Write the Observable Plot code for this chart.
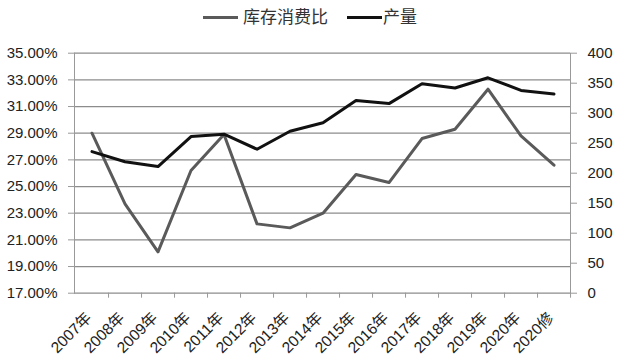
<!DOCTYPE html>
<html><head><meta charset="utf-8">
<script src="https://cdn.jsdelivr.net/npm/d3@7"></script>
<script src="https://cdn.jsdelivr.net/npm/@observablehq/plot@0.6"></script>
<style>
body{margin:0;background:#fff;}
#legend{position:relative;height:30px;width:620px;font-family:"Noto Sans CJK SC",sans-serif;font-size:17px;color:#333;}
#legend .sw{position:absolute;height:3px;top:16px;width:35px;}
#legend .tx{position:absolute;top:4px;line-height:24px;}
</style></head><body>
<div id="legend"></div>
<div id="chart"></div>
<script>
const years = ["2007年","2008年","2009年","2010年","2011年","2012年","2013年","2014年","2015年","2016年","2017年","2018年","2019年","2020年","2020修"];
const ratio = [29.0, 23.7, 20.1, 26.2, 28.9, 22.2, 21.9, 23.0, 25.9, 25.3, 28.6, 29.3, 32.3, 28.8, 26.6];
const output = [236, 219, 211, 261, 265, 240, 270, 284, 321, 316, 349, 342, 359, 338, 332];
const leftTicks = [17, 19, 21, 23, 25, 27, 29, 31, 33, 35];
const rightTicks = [0, 50, 100, 150, 200, 250, 300, 350, 400];
const seriesNames = ["库存消费比", "产量"];
const seriesColors = ["#5a5a5a", "#111111"];

// legend
const lg = document.getElementById("legend");
const swX = [203, 347], txX = [243, 383];
seriesNames.forEach((n, i) => {
  const s = document.createElement("div"); s.className = "sw";
  s.style.left = swX[i] + "px"; s.style.background = seriesColors[i];
  lg.appendChild(s);
  const t = document.createElement("div"); t.className = "tx";
  t.style.left = txX[i] + "px"; t.textContent = n;
  lg.appendChild(t);
});

// secondary axis mapping: 0..400 -> 17..35
const toLeft = v => 17 + v * 18 / 400;
const data = years.map((y, i) => ({year: y, ratio: ratio[i], output: output[i]}));

const W = 620, H = 334, ml = 74, mr = 50, mt = 22.7, mb = 71.3;
const bw = (W - ml - mr) / years.length;

const chart = Plot.plot({
  width: W, height: H,
  marginLeft: ml, marginRight: mr, marginTop: mt, marginBottom: mb,
  style: {fontFamily: "'Liberation Sans', sans-serif", fontSize: "15px", color: "#222", background: "#fff", overflow: "visible"},
  x: {type: "band", domain: years, padding: 0, label: null},
  y: {domain: [17, 35], label: null},
  marks: [
    Plot.ruleY(leftTicks, {stroke: "#8c8c8c", strokeWidth: 1.3}),
    Plot.frame({anchor: "left", stroke: "#999"}),
    Plot.frame({anchor: "right", stroke: "#999"}),
    Plot.axisY(leftTicks, {anchor: "left", tickSize: 6, tickPadding: 11, stroke: "#999", tickFormat: d => d.toFixed(2) + "%", label: null}),
    Plot.axisY(rightTicks.map(toLeft), {anchor: "right", tickSize: 6, tickPadding: 11, stroke: "#999", tickFormat: d => String(Math.round((d - 17) * 400 / 18)), label: null}),
    Plot.axisX({tickSize: 5, stroke: "#999", tickFormat: () => "", dx: bw / 2, label: null}),
    Plot.axisX({tickSize: 0, tickRotate: -45, tickPadding: 22, dx: -3, fontSize: 15.5, fontFamily: "'Liberation Sans','Noto Sans CJK SC',sans-serif", label: null}),
    Plot.line(data, {x: "year", y: "ratio", stroke: seriesColors[0], strokeWidth: 3}),
    Plot.line(data, {x: "year", y: d => toLeft(d.output), stroke: seriesColors[1], strokeWidth: 3})
  ]
});
document.getElementById("chart").appendChild(chart);
</script>
</body></html>
